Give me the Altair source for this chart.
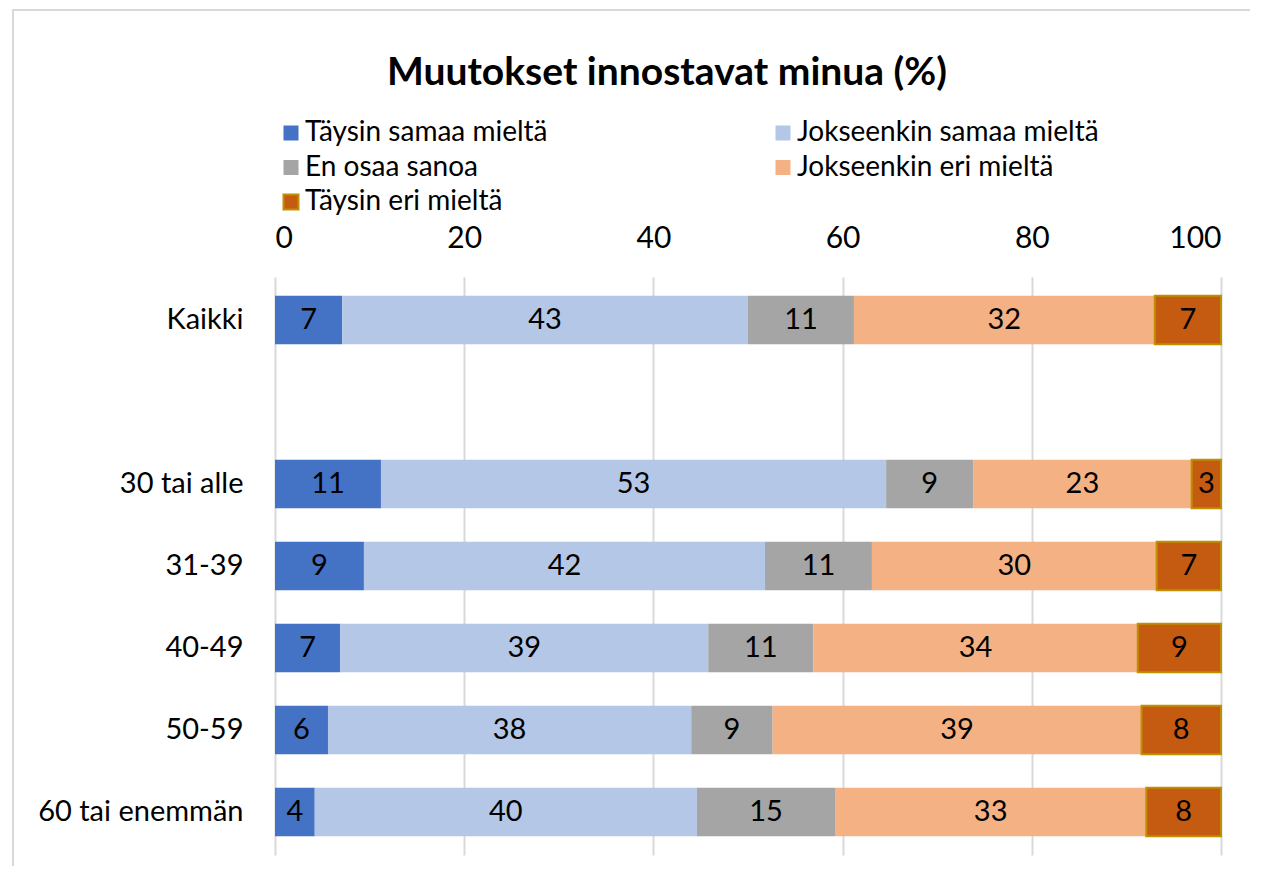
import altair as alt
import pandas as pd

groups = ["Kaikki", " ", "30 tai alle", "31-39", "40-49", "50-59", "60 tai enemmän"]
data_groups = ["Kaikki", "30 tai alle", "31-39", "40-49", "50-59", "60 tai enemmän"]
categories = ["Täysin samaa mieltä", "Jokseenkin samaa mieltä", "En osaa sanoa",
              "Jokseenkin eri mieltä", "Täysin eri mieltä"]
colors = ["#4472C4", "#B4C7E7", "#A5A5A5", "#F4B183", "#C55A11"]

taysin_samaa = [7.1, 11.2, 9.4, 6.9, 5.6, 4.2]
jokseenkin_samaa = [42.9, 53.4, 42.4, 38.9, 38.4, 40.4]
en_osaa = [11.2, 9.2, 11.3, 11.1, 8.6, 14.6]
jokseenkin_eri = [31.8, 23.1, 30.1, 34.3, 39.0, 32.9]
taysin_eri = [7.0, 3.1, 6.8, 8.8, 8.4, 7.9]

series = [taysin_samaa, jokseenkin_samaa, en_osaa, jokseenkin_eri, taysin_eri]
rows = []
for ci, (cat, vals) in enumerate(zip(categories, series)):
    for g, v in zip(data_groups, vals):
        rows.append({"group": g, "category": cat, "order": ci, "value": v})
df = pd.DataFrame(rows)

FONT = "Lato"
W, H = 946, 578
PAD = {"left": 267, "top": 269, "right": 30, "bottom": 12}

base = alt.Chart(df).transform_stack(
    stack="value", groupby=["group"], sort=[alt.SortField("order", order="ascending")],
    as_=["x0", "x1"]
).transform_calculate(mid="(datum.x0 + datum.x1) / 2")

y_enc = alt.Y("group:N", scale=alt.Scale(domain=groups, paddingInner=0.41, paddingOuter=0.23),
              axis=alt.Axis(title=None, ticks=False, domain=False, labelPadding=32,
                            labelFontSize=29, labelColor="#000000", labelFont=FONT,
                            labelLimit=400))

bars = base.mark_bar(stroke="#BF9000").encode(
    x=alt.X("x0:Q", scale=alt.Scale(domain=[0, 100], nice=False),
            axis=alt.Axis(orient="top", title=None, values=[0, 20, 40, 60, 80, 100],
                          ticks=False, domain=False, labelPadding=24, labelFontSize=30,
                          labelColor="#000000", labelFont=FONT, grid=True,
                          gridColor="#D9D9D9", gridWidth=2)),
    x2="x1:Q",
    y=y_enc,
    color=alt.Color("category:N", scale=alt.Scale(domain=categories, range=colors),
                    legend=alt.Legend(
                        title=None, orient="none", legendX=2, legendY=-158, columns=2,
                        direction="horizontal",
                        columnPadding=221, rowPadding=6.5, symbolType="square",
                        symbolSize=225, labelFontSize=28, labelFont=FONT,
                        labelColor="#000000", labelOffset=0, labelLimit=400,
                        symbolOpacity=1,
                        symbolStrokeColor=alt.ExprRef(expr="datum.value === 'Täysin eri mieltä' ? '#BF9000' : 'transparent'"),
                        symbolStrokeWidth=alt.ExprRef(expr="datum.value === 'Täysin eri mieltä' ? 2 : 0"))),
    strokeWidth=alt.condition(alt.datum.category == "Täysin eri mieltä", alt.value(2), alt.value(0)),
    order=alt.Order("order:Q"),
)

labels = base.mark_text(fontSize=29, font=FONT, color="#000000", baseline="middle").encode(
    x=alt.X("mid:Q"),
    y=alt.Y("group:N"),
    text=alt.Text("value:Q", format=".0f"),
)

# light grey chart frame (decoration) drawn as thin filled rects, inside the drawing area
frame_top = alt.Chart(df).mark_rect(color="#D9D9D9", strokeWidth=0).encode(
    x=alt.value(-263), x2=alt.value(W + PAD["right"] - 1),
    y=alt.value(-268), y2=alt.value(-266))
frame_left = alt.Chart(df).mark_rect(color="#D9D9D9", strokeWidth=0).encode(
    x=alt.value(-263), x2=alt.value(-261),
    y=alt.value(-268), y2=alt.value(H + PAD["bottom"] - 1))

chart = alt.layer(frame_top, frame_left, bars, labels).properties(
    width=W, height=H,
    title=alt.TitleParams("Muutokset innostavat minua (%)", font=FONT, fontSize=39,
                          fontWeight="bold", color="#000000", anchor="middle", dx=-81,
                          frame="group", offset=-84),
    autosize=alt.AutoSizeParams(type="none"),
    padding=PAD,
).configure_view(stroke=None)

chart.save("out.html", embed_options={"renderer": "svg", "actions": False})
